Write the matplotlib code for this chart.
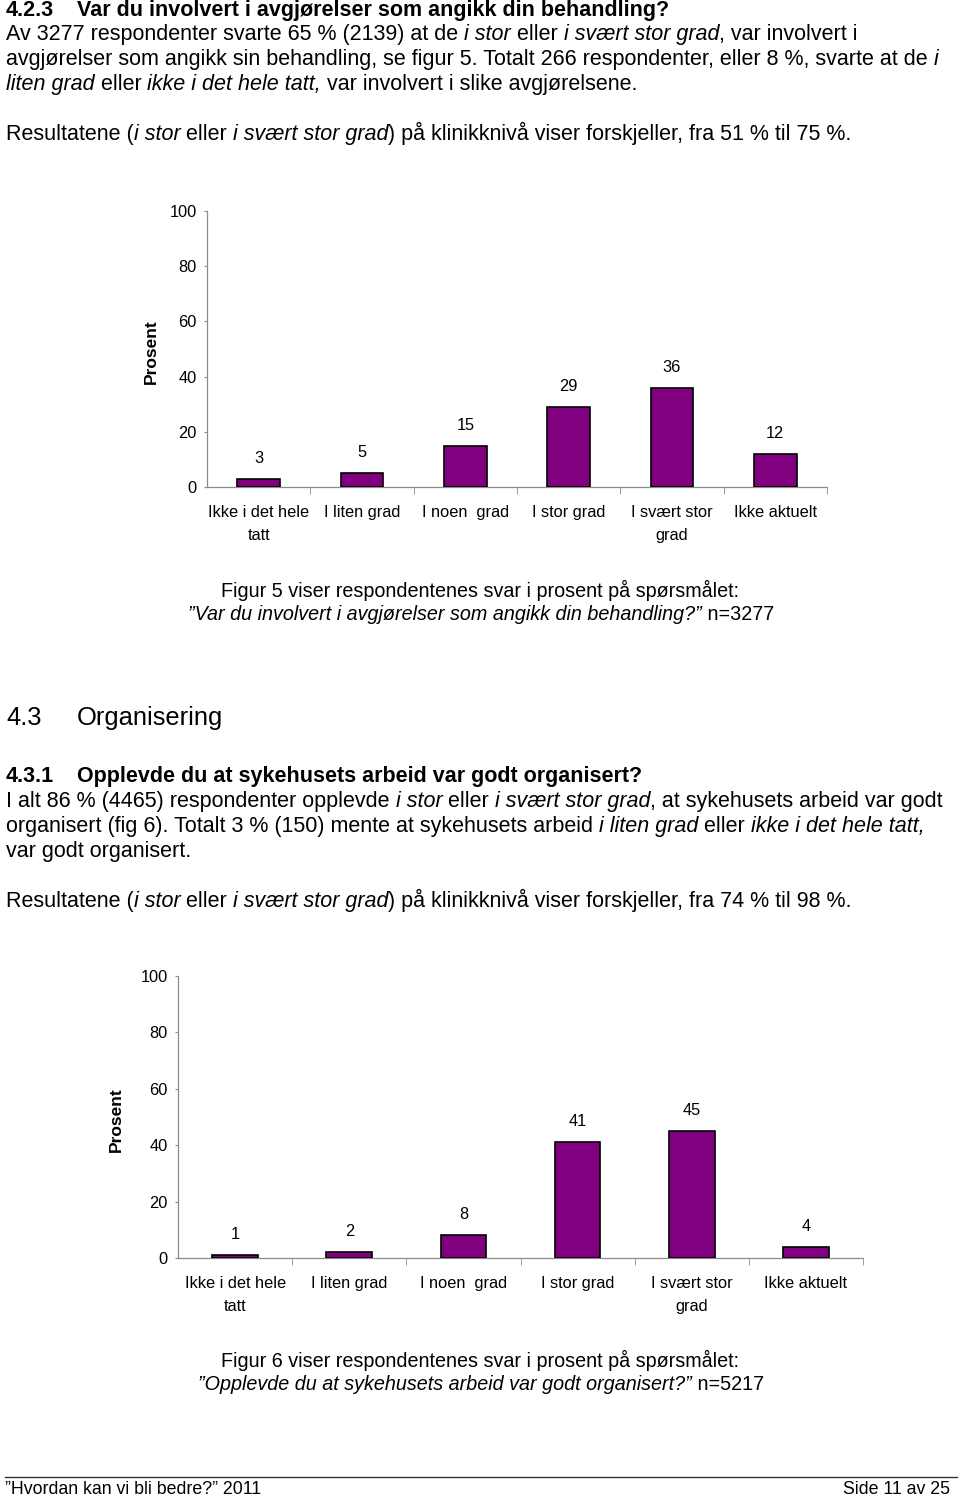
import matplotlib
matplotlib.use('Agg')
import matplotlib.pyplot as plt
from matplotlib.lines import Line2D

W, H = 960, 1497

# Data for the two charts
kategorier = ['Ikke i det hele\ntatt', 'I liten grad', 'I noen  grad', 'I stor grad',
              'I svært stor\ngrad', 'Ikke aktuelt']
fig5_prosent = [3, 5, 15, 29, 36, 12]
fig6_prosent = [1, 2, 8, 41, 45, 4]
y_ticks = [0, 20, 40, 60, 80, 100]

TEXT_FONT = ['Liberation Sans', 'DejaVu Sans']
BODY = 15.5      # body text size
CHART = 11.8     # chart text size

fig = plt.figure(figsize=(W / 100, H / 100), dpi=100)
renderer = fig.canvas.get_renderer()


def fx(x):
    return x / W


def fy(y):
    return 1 - y / H


def text_width(txt, style='normal', weight='normal', size=BODY):
    # measure with bars around so leading/trailing spaces count
    t1 = fig.text(0, 0, '|' + txt + '|', fontsize=size, style=style, weight=weight, family=TEXT_FONT)
    t2 = fig.text(0, 0, '||', fontsize=size, style=style, weight=weight, family=TEXT_FONT)
    w = t1.get_window_extent(renderer).width - t2.get_window_extent(renderer).width
    t1.remove()
    t2.remove()
    return w


def line(segs, x, y, size=BODY, weight='normal', center=False):
    # y is the visual middle of the line, converted to a baseline
    styles = {'n': 'normal', 'i': 'italic'}
    base = y + 0.3 * size * 100 / 72
    if center:
        total = sum(text_width(s, styles[st], weight, size) for s, st in segs)
        x = x - total / 2
    for s, st in segs:
        fig.text(fx(x), fy(base), s, fontsize=size, style=styles[st], weight=weight,
                 family=TEXT_FONT, va='baseline', ha='left')
        x += text_width(s, styles[st], weight, size)


def heading(num, title, y, size=BODY, weight='bold'):
    base = y + 0.3 * size * 100 / 72
    fig.text(fx(6), fy(base), num, fontsize=size, weight=weight, family=TEXT_FONT, va='baseline')
    fig.text(fx(77), fy(base), title, fontsize=size, weight=weight, family=TEXT_FONT, va='baseline')


def bar_chart(left, right, y0, y100, verdier, bredde, prosent_x):
    ax = fig.add_axes([fx(left), fy(y0), fx(right) - fx(left), fy(y100) - fy(y0)])
    x = list(range(len(verdier)))
    ax.bar(x, verdier, width=bredde, color='#800080', edgecolor='black', linewidth=1.2, zorder=3)
    ax.set_xlim(-0.5, len(verdier) - 0.5)
    ax.set_ylim(0, 100)
    for s in ['top', 'right']:
        ax.spines[s].set_visible(False)
    for s in ['left', 'bottom']:
        ax.spines[s].set_color('#8c8c8c')
        ax.spines[s].set_linewidth(0.9)
    ax.set_yticks(y_ticks)
    ax.set_yticklabels([str(v) for v in y_ticks], fontsize=CHART, family=TEXT_FONT)
    ax.tick_params(axis='y', length=2.5, color='#8c8c8c', pad=5)
    ax.set_xticks(x)
    ax.set_xticklabels(kategorier, fontsize=CHART, family=TEXT_FONT, linespacing=1.7, va='top')
    ax.tick_params(axis='x', which='major', length=0, pad=13)
    ax.set_xticks([i + 0.5 for i in x], minor=True)
    ax.tick_params(axis='x', which='minor', length=5, color='#8c8c8c')
    for xi, v in zip(x, verdier):
        ax.annotate(str(v), (xi, v), xytext=(0, 13), textcoords='offset pixels',
                    ha='center', va='bottom', fontsize=CHART, family=TEXT_FONT)
    fig.text(fx(prosent_x), (fy(y0) + fy(y100)) / 2 + (fy(y0) - fy(y100)) * 0.01, 'Prosent',
             rotation=90, fontsize=12.5, weight='bold', family=TEXT_FONT, ha='center', va='center')
    return ax


# ---- section 4.2.3
heading('4.2.3', 'Var du involvert i avgjørelser som angikk din behandling?', 10)
line([('Av 3277 respondenter svarte 65 % (2139) at de ', 'n'), ('i stor', 'i'), (' eller ', 'n'),
      ('i svært stor grad', 'i'), (', var involvert i', 'n')], 6, 34)
line([('avgjørelser som angikk sin behandling, se figur 5. Totalt 266 respondenter, eller 8 %, svarte at de ', 'n'),
      ('i', 'i')], 6, 59)
line([('liten grad', 'i'), (' eller ', 'n'), ('ikke i det hele tatt,', 'i'),
      (' var involvert i slike avgjørelsene.', 'n')], 6, 84)
line([('Resultatene (', 'n'), ('i stor', 'i'), (' eller ', 'n'), ('i svært stor grad', 'i'),
      (') på klinikknivå viser forskjeller, fra 51 % til 75 %.', 'n')], 6, 134)

bar_chart(207, 827, 487, 211, fig5_prosent, 0.41, 151)

line([('Figur 5 viser respondentenes svar i prosent på spørsmålet:', 'n')], 480, 591, size=14.2, center=True)
line([('\u201dVar du involvert i avgjørelser som angikk din behandling?\u201d', 'i'), (' n=3277', 'n')],
     481, 614, size=14.2, center=True)

# ---- section 4.3
heading('4.3', 'Organisering', 717, size=18.4, weight='normal')
heading('4.3.1', 'Opplevde du at sykehusets arbeid var godt organisert?', 776)
line([('I alt 86 % (4465) respondenter opplevde ', 'n'), ('i stor', 'i'), (' eller ', 'n'),
      ('i svært stor grad', 'i'), (', at sykehusets arbeid var godt', 'n')], 6, 801)
line([('organisert (fig 6). Totalt 3 % (150) mente at sykehusets arbeid ', 'n'), ('i liten grad', 'i'),
      (' eller ', 'n'), ('ikke i det hele tatt,', 'i')], 6, 826)
line([('var godt organisert.', 'n')], 6, 851)
line([('Resultatene (', 'n'), ('i stor', 'i'), (' eller ', 'n'), ('i svært stor grad', 'i'),
      (') på klinikknivå viser forskjeller, fra 74 % til 98 %.', 'n')], 6, 901)

bar_chart(178, 863, 1258, 976, fig6_prosent, 0.40, 116)

line([('Figur 6 viser respondentenes svar i prosent på spørsmålet:', 'n')], 480, 1361, size=14.2, center=True)
line([('\u201dOpplevde du at sykehusets arbeid var godt organisert?\u201d', 'i'), (' n=5217', 'n')],
     481, 1384, size=14.2, center=True)

# ---- footer
fig.add_artist(Line2D([fx(5), fx(957)], [fy(1477), fy(1477)], color='#333333', linewidth=1.0))
fig.text(fx(5), fy(1490), '\u201dHvordan kan vi bli bedre?\u201d 2011', fontsize=12.8, family=TEXT_FONT, va='center')
fig.text(fx(950), fy(1490), 'Side 11 av 25', fontsize=12.8, family=TEXT_FONT, va='center', ha='right')

fig.savefig('out.png', dpi=100)
